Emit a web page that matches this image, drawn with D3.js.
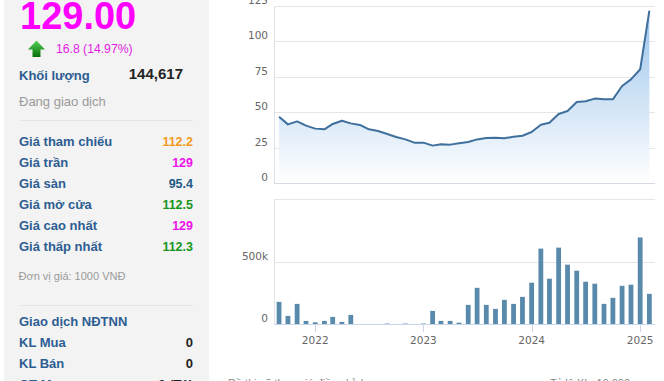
<!DOCTYPE html>
<html><head><meta charset="utf-8">
<script src="https://cdn.jsdelivr.net/npm/d3@7/dist/d3.min.js"></script>
<style>body{margin:0;overflow:hidden;background:#fff}svg{display:block}</style>
</head><body><svg id="c" width="664" height="381"></svg>
<script>
const months = ["2021-09","2021-10","2021-11","2021-12",
  "2022-01","2022-02","2022-03","2022-04","2022-05","2022-06","2022-07","2022-08","2022-09","2022-10","2022-11","2022-12",
  "2023-01","2023-02","2023-03","2023-04","2023-05","2023-06","2023-07","2023-08","2023-09","2023-10","2023-11","2023-12",
  "2024-01","2024-02","2024-03","2024-04","2024-05","2024-06","2024-07","2024-08","2024-09","2024-10","2024-11","2024-12",
  "2025-01","2025-02"];
const prices = [46.8,41.4,43.5,40.5,
  38.4,37.9,41.7,44.0,42.1,41.0,37.9,36.7,34.6,32.5,30.8,28.5,
  28.5,26.4,27.3,27.1,28.0,29.0,30.8,31.8,32.0,31.6,32.7,33.4,
  36.0,41.2,42.6,48.7,50.8,57.2,57.7,59.6,59.1,59.1,68.5,73.2,
  80.3,121.7];
const volumes = [179000,67000,163000,27000,
  16000,27000,59000,19000,75000,0,0,0,6000,0,6000,0,
  6000,107000,27000,27000,13000,155000,291000,155000,123000,195000,163000,219000,
  332000,604000,364000,612000,476000,428000,340000,324000,163000,211000,307000,316000,
  693000,243000];
const priceTicks = [0,25,50,75,100,125];
const volumeTicks = [0,500000,1000000];
const yearTicks = ["2022","2023","2024","2025"];
const xDomain = ["2021-08-15","2025-02-20"];
const infoLabels = ["Giá tham chiếu","Giá trần","Giá sàn","Giá mở cửa","Giá cao nhất","Giá thấp nhất"];
const infoValues = ["112.2","129","95.4","112.5","129","112.3"];
const infoColors = ["#f39a1e","#ee10ee","#1f5a86","#16951a","#ee10ee","#16951a"];
const foreignLabels = ["KL Mua","KL Bán","GT Mua"];
const foreignValues = ["0","0","0 (Tỷ)"];

const svg = d3.select("#c");
const FONT = "Arial, 'Liberation Sans', sans-serif";
const AX = "'DejaVu Sans', Verdana, sans-serif";
const BLUE = "#2d5d92";

// ---------- left panel ----------
svg.append("rect").attr("x",4).attr("y",0).attr("width",205).attr("height",381).attr("fill","#f3f3f3");
svg.append("text").attr("x",20).attr("y",28.5).attr("font-family",FONT).attr("font-weight","bold")
  .attr("font-size",38).attr("fill","#f0f").text("129.00");
const defs = svg.append("defs");
const ag = defs.append("linearGradient").attr("id","arrowG").attr("x1",0).attr("y1",0).attr("x2",0).attr("y2",1);
ag.append("stop").attr("offset","0").attr("stop-color","#56d256");
ag.append("stop").attr("offset","1").attr("stop-color","#06700a");
svg.append("path").attr("d","M28,49.5 L36.5,40.5 L45,49.5 L40.5,49.5 L40.5,57 L32.5,57 L32.5,49.5 Z").attr("fill","url(#arrowG)");
svg.append("text").attr("x",56).attr("y",53).attr("font-family",FONT).attr("font-size",12.2)
  .attr("fill","#e31de3").text("16.8 (14.97%)");
svg.append("text").attr("x",19).attr("y",80).attr("font-family",FONT).attr("font-weight","bold")
  .attr("font-size",13).attr("fill",BLUE).text("Khối lượng");
svg.append("text").attr("x",183).attr("y",79).attr("text-anchor","end").attr("font-family",FONT).attr("font-weight","bold")
  .attr("font-size",15).attr("fill","#222").text("144,617");
svg.append("text").attr("x",19).attr("y",106).attr("font-family",FONT).attr("font-size",13)
  .attr("fill","#9a9a9a").text("Đang giao dịch");
svg.append("line").attr("x1",20).attr("x2",193).attr("y1",120.5).attr("y2",120.5).attr("stroke","#e3e3e3");
infoLabels.forEach((l,i)=>{
  const y = 146.2 + i*21;
  svg.append("text").attr("x",19).attr("y",y).attr("font-family",FONT).attr("font-weight","bold")
    .attr("font-size",13).attr("fill",BLUE).text(l);
  svg.append("text").attr("x",193).attr("y",y).attr("text-anchor","end").attr("font-family",FONT)
    .attr("font-weight","bold").attr("font-size",12.5).attr("fill",infoColors[i]).text(infoValues[i]);
});
svg.append("text").attr("x",18.5).attr("y",279.5).attr("font-family",FONT).attr("font-size",11)
  .attr("fill","#9a9a9a").text("Đơn vị giá: 1000 VNĐ");
svg.append("line").attr("x1",20).attr("x2",193).attr("y1",305.5).attr("y2",305.5).attr("stroke","#e3e3e3");
svg.append("text").attr("x",19).attr("y",326.2).attr("font-family",FONT).attr("font-weight","bold")
  .attr("font-size",13).attr("fill",BLUE).text("Giao dịch NĐTNN");
foreignLabels.forEach((l,i)=>{
  const y = 347.2 + i*21;
  svg.append("text").attr("x",19).attr("y",y).attr("font-family",FONT).attr("font-weight","bold")
    .attr("font-size",13).attr("fill",BLUE).text(l);
  svg.append("text").attr("x",193).attr("y",y).attr("text-anchor","end").attr("font-family",FONT).attr("font-weight","bold")
    .attr("font-size",13).attr("fill","#222").text(foreignValues[i]);
});

// ---------- charts ----------
const parse = d3.timeParse("%Y-%m");
const parseD = d3.timeParse("%Y-%m-%d");
const dates = months.map(parse);
const x = d3.scaleTime().domain(xDomain.map(parseD)).range([274,655]);
const yP = d3.scaleLinear().domain([0,125]).range([183,6]);
const yV = d3.scaleLinear().domain([0,1000000]).range([324.3,199]);

// price gridlines
const gP = svg.append("g");
gP.selectAll("line.g").data(priceTicks).join("line")
  .attr("x1",274).attr("x2",655).attr("y1",d=>Math.round(yP(d))+0.5).attr("y2",d=>Math.round(yP(d))+0.5)
  .attr("stroke",d=>d===0?"#d6dce6":"#e6e6e6");
gP.selectAll("text").data(priceTicks).join("text")
  .attr("x",268).attr("y",d=>yP(d)-2).attr("text-anchor","end")
  .attr("font-family",AX).attr("font-size",10.5).attr("fill","#666").text(d=>d);
svg.append("line").attr("x1",274.5).attr("x2",274.5).attr("y1",6).attr("y2",183).attr("stroke","#dde3ea");

const grad = defs.append("linearGradient").attr("id","areaG").attr("gradientUnits","userSpaceOnUse")
  .attr("x1",0).attr("x2",0).attr("y1",yP(121.7)).attr("y2",yP(0));
grad.append("stop").attr("offset","0").attr("stop-color","#9cc4ec");
grad.append("stop").attr("offset","1").attr("stop-color","#ffffff");

const pts = dates.map((d,i)=>({d, v:prices[i]}));
svg.append("path").datum(pts).attr("fill","url(#areaG)")
  .attr("d", d3.area().x(p=>x(p.d)).y0(yP(0)).y1(p=>yP(p.v)));
svg.append("path").datum(pts).attr("fill","none").attr("stroke","#3f6f9c").attr("stroke-width",2)
  .attr("stroke-linejoin","round")
  .attr("d", d3.line().x(p=>x(p.d)).y(p=>yP(p.v)));

// volume chart
const gV = svg.append("g");
gV.selectAll("line").data(volumeTicks.filter(d=>d>0)).join("line")
  .attr("x1",274).attr("x2",655).attr("y1",d=>Math.round(yV(d))+0.5).attr("y2",d=>Math.round(yV(d))+0.5)
  .attr("stroke","#e6e6e6");
gV.selectAll("text").data(volumeTicks.filter(d=>d<1000000)).join("text")
  .attr("x",268).attr("y",d=>yV(d)-2).attr("text-anchor","end")
  .attr("font-family",AX).attr("font-size",10.5).attr("fill","#666").text(d=>d===0?"0":d/1000+"k");
svg.append("line").attr("x1",274.5).attr("x2",274.5).attr("y1",199).attr("y2",324).attr("stroke","#dde3ea");
svg.selectAll("rect.bar").data(dates).join("rect").attr("class","bar")
  .attr("x",(d)=>x(d)-2.4).attr("width",4.8)
  .attr("y",(d,i)=>yV(volumes[i])).attr("height",(d,i)=>yV(0)-yV(volumes[i]))
  .attr("fill","#5a8aab");
svg.append("line").attr("x1",274).attr("x2",655).attr("y1",324.5).attr("y2",324.5).attr("stroke","#ccd6eb");
const years = yearTicks.map(s=>d3.timeParse("%Y")(s));
svg.selectAll("line.tk").data(years).join("line").attr("class","tk")
  .attr("x1",d=>Math.round(x(d))+0.5).attr("x2",d=>Math.round(x(d))+0.5).attr("y1",324).attr("y2",332).attr("stroke","#ccd6eb");
svg.selectAll("text.yr").data(years).join("text").attr("class","yr")
  .attr("x",d=>x(d)).attr("y",343.5).attr("text-anchor","middle")
  .attr("font-family",AX).attr("font-size",10.5).attr("fill","#666").text((d,i)=>yearTicks[i]);

// footer notes (clipped at bottom, as in the reference)
svg.append("text").attr("x",228).attr("y",387).attr("font-family",FONT).attr("font-size",11)
  .attr("fill","#888").text("Đồ thị vẽ theo giá điều chỉnh");
svg.append("text").attr("x",550).attr("y",387).attr("font-family",FONT).attr("font-size",11)
  .attr("fill","#888").text("Tỷ lệ KL: 10,000");
</script></body></html>
